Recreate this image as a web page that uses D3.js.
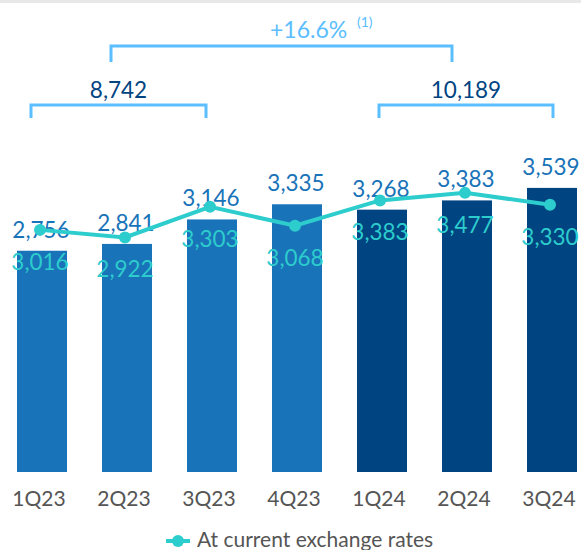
<!DOCTYPE html>
<html>
<head>
<meta charset="utf-8">
<script src="https://cdn.jsdelivr.net/npm/d3@7.9.0/dist/d3.min.js"></script>
<style>
  body { margin: 0; background: #fff; }
  svg { display: block; font-family: Lato, "Open Sans", sans-serif; }
</style>
</head>
<body>
<svg id="chart" width="581" height="550"></svg>
<script>
const quarters = ["1Q23", "2Q23", "3Q23", "4Q23", "1Q24", "2Q24", "3Q24"];
const constantRates = [2756, 2841, 3146, 3335, 3268, 3383, 3539];
const currentRates = [3016, 2922, 3303, 3068, 3383, 3477, 3330];
const totalLabels = ["8,742", "10,189"];
const growthLabel = "+16.6%";
const legendLabel = "At current exchange rates";

const fmt = d3.format(",");

const svg = d3.select("#chart");

// thin grey strip at the very top
svg.append("rect").attr("x", 0).attr("y", 0).attr("width", 581).attr("height", 3).attr("fill", "#e8e8e8");

const x = d3.scaleBand()
  .domain(quarters)
  .range([0, 594])
  .paddingInner(0.41176)
  .paddingOuter(0.2);

const y = d3.scaleLinear()
  .domain([0, 3600])
  .range([472, 183]);

const cx = q => x(q) + x.bandwidth() / 2;

// bars (constant exchange rates)
svg.selectAll("rect.bar")
  .data(quarters)
  .join("rect")
  .attr("class", "bar")
  .attr("x", d => x(d))
  .attr("y", (d, i) => y(constantRates[i]))
  .attr("width", x.bandwidth())
  .attr("height", (d, i) => y(0) - y(constantRates[i]))
  .attr("fill", (d, i) => i < 4 ? "#1973b8" : "#004481");

// bar labels
svg.selectAll("text.barlab")
  .data(quarters)
  .join("text")
  .attr("class", "barlab")
  .attr("x", d => cx(d) - 1)
  .attr("y", (d, i) => y(constantRates[i]) - 13)
  .attr("text-anchor", "middle")
  .attr("font-size", 22.5)
  .attr("fill", "#1973b8")
  .text((d, i) => fmt(constantRates[i]));

// line (current exchange rates)
const line = d3.line()
  .x(d => cx(d.q) - 2)
  .y(d => y(d.v));
const linePts = quarters.map((q, i) => ({ q: q, v: currentRates[i] }));

svg.append("path")
  .datum(linePts)
  .attr("d", line)
  .attr("fill", "none")
  .attr("stroke", "#2dcccd")
  .attr("stroke-width", 4);

svg.selectAll("circle.dot")
  .data(linePts)
  .join("circle")
  .attr("class", "dot")
  .attr("cx", d => cx(d.q) - 2)
  .attr("cy", d => y(d.v))
  .attr("r", 6)
  .attr("fill", "#2dcccd");

svg.selectAll("text.linelab")
  .data(linePts)
  .join("text")
  .attr("class", "linelab")
  .attr("x", d => cx(d.q) - 2)
  .attr("y", d => y(d.v) + 40)
  .attr("text-anchor", "middle")
  .attr("font-size", 22.5)
  .attr("fill", "#2dcccd")
  .text(d => fmt(d.v));

// x axis labels
svg.selectAll("text.xlab")
  .data(quarters)
  .join("text")
  .attr("class", "xlab")
  .attr("x", d => cx(d) - 3)
  .attr("y", 506)
  .attr("text-anchor", "middle")
  .attr("font-size", 21)
  .attr("fill", "#555")
  .text(d => d);

// brackets
function bracket(x0, x1, top, bottom) {
  svg.append("path")
    .attr("d", `M${x0},${bottom}V${top}H${x1}V${bottom}`)
    .attr("fill", "none")
    .attr("stroke", "#5bbeff")
    .attr("stroke-width", 3);
}

bracket(cx(quarters[1]) - 16, cx(quarters[5]) - 15, 46, 62);
bracket(cx(quarters[0]) - 11, cx(quarters[2]) - 6, 105, 118);
bracket(cx(quarters[4]) - 3, cx(quarters[6]) + 1, 105, 118);

svg.append("text")
  .attr("x", (cx(quarters[0]) - 11 + cx(quarters[2]) - 6) / 2)
  .attr("y", 98)
  .attr("text-anchor", "middle")
  .attr("font-size", 22.5)
  .attr("fill", "#004481")
  .text(totalLabels[0]);

svg.append("text")
  .attr("x", (cx(quarters[4]) - 3 + cx(quarters[6]) + 1) / 2)
  .attr("y", 98)
  .attr("text-anchor", "middle")
  .attr("font-size", 22.5)
  .attr("fill", "#004481")
  .text(totalLabels[1]);

svg.append("text")
  .attr("x", 270)
  .attr("y", 38)
  .attr("font-size", 23)
  .attr("fill", "#5bbeff")
  .text(growthLabel);

svg.append("text")
  .attr("x", 357)
  .attr("y", 27)
  .attr("font-size", 14)
  .attr("fill", "#5bbeff")
  .text("(1)");

// legend
const lg = svg.append("g").attr("transform", "translate(166,541)");
lg.append("line").attr("x1", 0).attr("x2", 24).attr("y1", 0).attr("y2", 0)
  .attr("stroke", "#2dcccd").attr("stroke-width", 4);
lg.append("circle").attr("cx", 12).attr("cy", 0).attr("r", 6).attr("fill", "#2dcccd");
lg.append("text")
  .attr("x", 31)
  .attr("y", 6)
  .attr("font-size", 21)
  .attr("fill", "#555")
  .text(legendLabel);
</script>
</body>
</html>
